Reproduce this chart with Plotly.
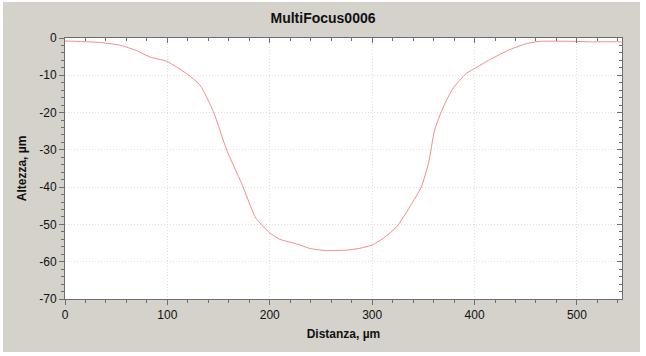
import plotly.graph_objects as go

# Profile data
distanza = [0, 10, 20, 34, 54, 70, 83, 99, 109, 120, 132, 145, 158, 172.5, 185.5, 190,
            200, 210, 226, 240, 255, 262, 275, 288, 300, 311, 324, 337, 348, 355, 361,
            369.5, 379, 392, 400, 415, 434.5, 451, 464, 480, 496, 516, 530, 543.6]
altezza = [-0.8, -0.9, -1.0, -1.2, -1.95, -3.4, -5.1, -6.2, -7.8, -9.8, -12.7, -19.8, -30.1,
           -39.0, -47.9, -49.5, -52.3, -54.0, -55.2, -56.5, -57.0, -57.0, -56.9, -56.4, -55.5,
           -53.7, -50.6, -45.2, -39.9, -33.6, -24.7, -18.5, -13.5, -9.5, -8.2, -5.8, -3.1,
           -1.5, -0.9, -0.85, -0.9, -1.05, -1.0, -1.05]

title_text = "MultiFocus0006"
x_title = "Distanza, µm"
y_title = "Altezza, µm"
x_range = [0, 544]
y_range = [-70, 0]
y_tickvals = [0, -10, -20, -30, -40, -50, -60, -70]
y_ticktext = ["0", "-10", "-20", "-30", "-40", "-50", "-60", "-70"]

BG = "#d4d2cb"
AX = "#6e6e6e"
FONT = "Liberation Sans, Arial, sans-serif"

fig = go.Figure()
fig.add_trace(go.Scatter(x=distanza, y=altezza, mode="lines",
                         line=dict(color="#f28c8c", width=1, shape="spline", smoothing=0.6),
                         showlegend=False, hoverinfo="skip"))

fig.update_layout(
    width=646, height=356,
    margin=dict(l=65, r=24, t=38, b=57),
    paper_bgcolor=BG, plot_bgcolor="white",
    font=dict(family=FONT, size=12, color="#111111"),
    title=dict(text="<b>" + title_text + "</b>", x=0.5, xanchor="center",
               y=1 - 18 / 356, yanchor="middle", font=dict(size=14, color="#111111")),
    xaxis=dict(range=x_range, tick0=0, dtick=100, ticks="outside", ticklen=5,
               tickcolor=AX, showline=True, linecolor=AX, linewidth=1,
               showgrid=True, gridcolor="#dedede", griddash="1px,2px", gridwidth=1,
               zeroline=False,
               minor=dict(dtick=20, ticks="outside", ticklen=3, tickcolor=AX, showgrid=False),
               title=dict(text="<b>" + x_title + "</b>", standoff=8, font=dict(size=12)),
               tickfont=dict(size=12)),
    yaxis=dict(range=y_range, tickmode="array", tickvals=y_tickvals, ticktext=y_ticktext,
               ticks="outside", ticklen=5,
               tickcolor=AX, showline=True, linecolor=AX, linewidth=1,
               showgrid=True, gridcolor="#dedede", griddash="1px,2px", gridwidth=1,
               zeroline=False,
               minor=dict(tick0=0, dtick=2, ticks="outside", ticklen=3, tickcolor=AX,
                          showgrid=False),
               title=dict(text="<b>" + y_title + "</b>", standoff=10, font=dict(size=12)),
               tickfont=dict(size=12)),
    xaxis2=dict(range=x_range, overlaying="x", side="top", anchor="y", tick0=0, dtick=100,
                ticks="inside", ticklen=5, tickcolor=AX, showticklabels=False,
                showline=True, linecolor=AX, showgrid=False, zeroline=False,
                minor=dict(dtick=20, ticks="inside", ticklen=3, tickcolor=AX, showgrid=False)),
    yaxis2=dict(range=y_range, overlaying="y", side="right", anchor="x", tick0=0, dtick=10,
                ticks="inside", ticklen=5, tickcolor=AX, showticklabels=False,
                showline=True, linecolor=AX, showgrid=False, zeroline=False,
                minor=dict(dtick=2, ticks="inside", ticklen=3, tickcolor=AX, showgrid=False)),
)

# dummy invisible trace to activate the mirrored axes
fig.add_trace(go.Scatter(x=[None], y=[None], xaxis="x2", yaxis="y2", showlegend=False,
                         hoverinfo="skip"))

# thin white frame round the grey panel
W, H = 557.0, 261.0
for x0, x1, y0, y1 in [(-65 / W, 1 + 24 / W, (299 - 356) / H, (299 - 352) / H),
                       (1 + 18 / W, 1 + 24 / W, (299 - 356) / H, 1 + 38 / H),
                       (-65 / W, -62 / W, (299 - 356) / H, 1 + 38 / H),
                       (-65 / W, 1 + 24 / W, 1 + 36 / H, 1 + 38 / H)]:
    fig.add_shape(type="rect", xref="paper", yref="paper", x0=x0, x1=x1, y0=y0, y1=y1,
                  fillcolor="white", line=dict(width=0), layer="above")

fig.write_html("out.html", config={"displayModeBar": False},
               post_script="document.body.style.margin='0';")
